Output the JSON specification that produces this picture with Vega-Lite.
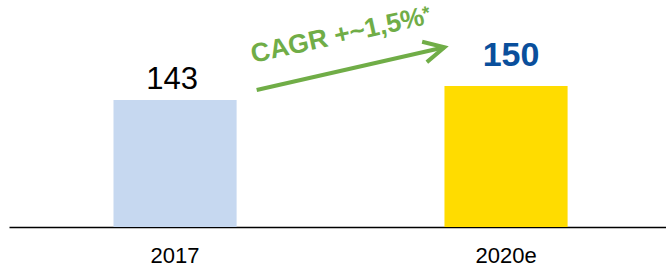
{
  "$schema": "https://vega.github.io/schema/vega-lite/v6.json",
  "autosize": {"type": "none"},
  "padding": {"left": 9, "right": 0, "top": 0, "bottom": 44},
  "width": 657,
  "height": 227,
  "background": "white",
  "config": {"view": {"stroke": null}, "font": "Liberation Sans"},
  "datasets": {
    "bars": [
      {"year": "2017", "value": 143},
      {"year": "2020e", "value": 150}
    ],
    "cagr": [
      {"from": "2017", "to": "2020e", "start": 148, "end": 169.35, "textAt": 161.5, "starAt": 183, "label": "CAGR +~1,5%", "star": "*"}
    ]
  },
  "layer": [
    {
      "data": {"name": "bars"},
      "mark": {"type": "bar"},
      "encoding": {
        "x": {
          "field": "year", "type": "nominal", "sort": null,
          "scale": {"paddingInner": 0.628, "paddingOuter": 0.3065, "align": 0.515},
          "axis": {
            "title": null, "labelAngle": 0, "ticks": false, "grid": false,
            "domain": true, "domainColor": "#000000", "domainWidth": 1.5,
            "labelFontSize": 22, "labelColor": "#000000", "labelFont": "Liberation Sans",
            "labelPadding": 18
          }
        },
        "y": {"field": "value", "type": "quantitative", "scale": {"domain": [79.5, 193], "zero": false, "nice": false}, "axis": null},
        "y2": {"datum": 79.5},
        "color": {
          "field": "year", "type": "nominal",
          "scale": {"domain": ["2017", "2020e"], "range": ["#C6D8F0", "#FFDC00"]},
          "legend": null
        }
      }
    },
    {
      "data": {"name": "bars"},
      "transform": [{"filter": "datum.year === '2017'"}],
      "mark": {"type": "text", "fontSize": 31, "baseline": "alphabetic", "align": "center", "dy": -11, "dx": -3, "color": "#000000", "font": "Liberation Sans"},
      "encoding": {
        "x": {"field": "year", "type": "nominal", "sort": null},
        "y": {"field": "value", "type": "quantitative"},
        "text": {"field": "value"}
      }
    },
    {
      "data": {"name": "bars"},
      "transform": [{"filter": "datum.year === '2020e'"}],
      "mark": {"type": "text", "fontSize": 34, "fontWeight": "bold", "baseline": "alphabetic", "align": "center", "dy": -20, "dx": 5, "color": "#0A4F9C", "font": "Liberation Sans"},
      "encoding": {
        "x": {"field": "year", "type": "nominal", "sort": null},
        "y": {"field": "value", "type": "quantitative"},
        "text": {"field": "value"}
      }
    },
    {
      "data": {"name": "cagr"},
      "mark": {"type": "rule", "color": "#70AD47", "strokeWidth": 4},
      "encoding": {
        "x": {"field": "from", "type": "nominal", "bandPosition": 1.163},
        "x2": {"field": "to", "bandPosition": 0},
        "y": {"field": "start", "type": "quantitative"},
        "y2": {"field": "end"}
      }
    },
    {
      "data": {"name": "cagr"},
      "mark": {"type": "point", "shape": "M-1,-0.51L0,0L-1,0.51", "filled": false, "stroke": "#70AD47", "strokeWidth": 4, "size": 1681, "angle": -13, "opacity": 1},
      "encoding": {
        "x": {"field": "to", "type": "nominal", "bandPosition": 0},
        "y": {"field": "end", "type": "quantitative"}
      }
    },
    {
      "data": {"name": "cagr"},
      "mark": {"type": "text", "fontSize": 26.5, "fontWeight": "bold", "align": "left", "baseline": "alphabetic", "angle": -12.5, "color": "#70AD47", "font": "Liberation Sans"},
      "encoding": {
        "x": {"field": "from", "type": "nominal", "bandPosition": 1.133},
        "y": {"field": "textAt", "type": "quantitative"},
        "text": {"field": "label"}
      }
    },
    {
      "data": {"name": "cagr"},
      "mark": {"type": "text", "fontSize": 19, "fontWeight": "bold", "align": "left", "baseline": "alphabetic", "angle": -12.5, "color": "#70AD47", "font": "Liberation Sans"},
      "encoding": {
        "x": {"field": "to", "type": "nominal", "bandPosition": -0.167},
        "y": {"field": "starAt", "type": "quantitative"},
        "text": {"field": "star"}
      }
    }
  ]
}
